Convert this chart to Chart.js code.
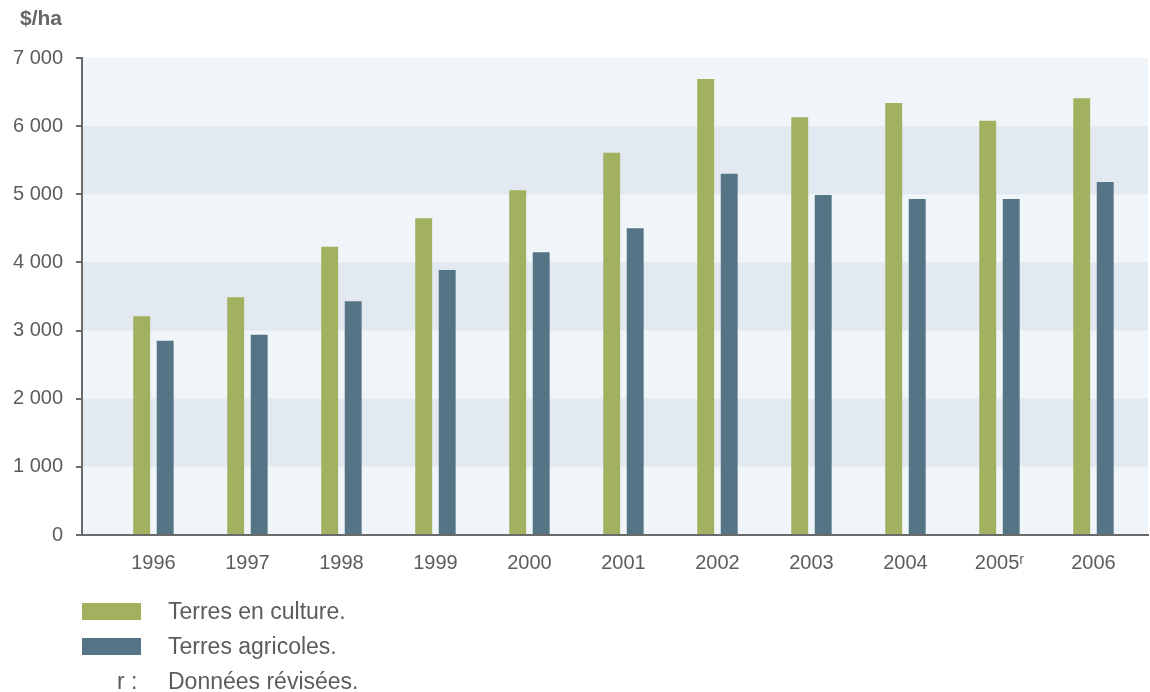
<!DOCTYPE html>
<html lang="fr">
<head>
<meta charset="utf-8">
<title>Valeur des terres</title>
<script src="https://cdn.jsdelivr.net/npm/chart.js@4.4.1/dist/chart.umd.min.js"></script>
<style>
    html, body { margin: 0; padding: 0; background: #fff; }
    #wrap { position: relative; width: 1150px; height: 692px; overflow: hidden; }
    #chart { position: absolute; left: 0; top: 0; }
    .unit { position: absolute; left: 20px; top: 6px; font: bold 21px "Liberation Sans", Arial, sans-serif; color: #666; }
    .legend { position: absolute; left: 82px; top: 600px; width: 600px; font: 23px "Liberation Sans", Arial, sans-serif; color: #5c5c5c; }
    .legend-row { position: relative; height: 35px; }
    .legend-box { position: absolute; left: 0; top: 3px; width: 59px; height: 17px; }
    .legend-text { position: absolute; left: 86px; top: -2px; white-space: nowrap; }
    .note-key { position: absolute; left: 35px; top: -2px; white-space: nowrap; }
</style>
</head>
<body>
<div id="wrap">
    <canvas id="chart" width="1150" height="692"></canvas>
    <div class="unit">$/ha</div>
    <div class="legend" id="legend"></div>
</div>
<script>
// Data
const years     = ["1996", "1997", "1998", "1999", "2000", "2001", "2002", "2003", "2004", "2005ʳ", "2006"];
const enCulture = [3210, 3490, 4230, 4650, 5060, 5610, 6690, 6130, 6340, 6080, 6410];
const agricoles = [2850, 2940, 3430, 3890, 4150, 4500, 5300, 4990, 4930, 4930, 5180];
const yTicks    = [0, 1000, 2000, 3000, 4000, 5000, 6000, 7000];
const noteText  = "Données révisées.";

(function () {
    "use strict";

    const GREEN = "#a2b160";
    const BLUE  = "#557586";
    const AXIS  = "#6a6a6a";
    const TEXT  = "#5c5c5c";

    function fmt(v) {
        return String(v).replace(/\B(?=(\d{3})+(?!\d))/g, " ");
    }

    function points(values) {
        return values.map((v, i) => ({ x: i, y: v }));
    }

    // =============================
    // Background bands
    // =============================
    const bandsPlugin = {
        id: "bands",
        beforeDraw(chart) {
            const { ctx, chartArea: a, scales } = chart;
            const y = scales.y;
            ctx.save();
            ctx.fillStyle = "#f0f5f9";
            ctx.fillRect(a.left, a.top, a.right - a.left, a.bottom - a.top);
            ctx.fillStyle = "#e2e9f0";
            for (let i = 1; i < yTicks.length - 1; i += 2) {
                const top = y.getPixelForValue(yTicks[i + 1]);
                const bot = y.getPixelForValue(yTicks[i]);
                ctx.fillRect(a.left, top, a.right - a.left, bot - top);
            }
            ctx.restore();
        }
    };

    const chart = new Chart(document.getElementById("chart"), {
        type: "bar",
        data: {
            datasets: [
                { label: "Terres en culture.", data: points(enCulture), backgroundColor: GREEN },
                { label: "Terres agricoles.",  data: points(agricoles), backgroundColor: BLUE }
            ]
        },
        options: {
            responsive: false,
            animation: false,
            layout: { padding: { top: 58, right: 2, left: 0, bottom: 0 } },
            datasets: { bar: { categoryPercentage: 0.5, barPercentage: 0.72 } },
            plugins: {
                legend: { display: false },
                tooltip: { enabled: false }
            },
            scales: {
                x: {
                    type: "linear",
                    min: -0.76,
                    max: 10.58,
                    offset: false,
                    grid: { display: false, drawTicks: false, offset: false },
                    border: { color: AXIS, width: 2 },
                    afterBuildTicks: (s) => { s.ticks = years.map((_, i) => ({ value: i })); },
                    afterFit: (s) => { s.height = 157; },
                    ticks: {
                        padding: 16,
                        maxRotation: 0,
                        autoSkip: false,
                        color: TEXT,
                        font: { family: "'Liberation Sans', Arial, sans-serif", size: 20 },
                        callback: (v) => years[v]
                    }
                },
                y: {
                    min: 0,
                    max: 7000,
                    afterBuildTicks: (s) => { s.ticks = yTicks.map((v) => ({ value: v })); },
                    afterFit: (s) => { s.width = 82; },
                    grid: { drawOnChartArea: false, drawTicks: true, tickLength: 6, color: AXIS, lineWidth: 2 },
                    border: { color: AXIS, width: 2 },
                    ticks: {
                        padding: 13,
                        color: TEXT,
                        font: { family: "'Liberation Sans', Arial, sans-serif", size: 20 },
                        callback: (v) => fmt(v)
                    }
                }
            }
        },
        plugins: [bandsPlugin]
    });

    // =============================
    // Legend (HTML, stacked)
    // =============================
    const legend = document.getElementById("legend");
    let html = "";
    chart.data.datasets.forEach((ds) => {
        html += `
            <div class="legend-row">
                <span class="legend-box" style="background:${ds.backgroundColor}"></span>
                <span class="legend-text">${ds.label}</span>
            </div>`;
    });
    html += `
        <div class="legend-row">
            <span class="note-key">r :</span>
            <span class="legend-text">${noteText}</span>
        </div>`;
    legend.innerHTML = html;
})();
</script>
</body>
</html>
